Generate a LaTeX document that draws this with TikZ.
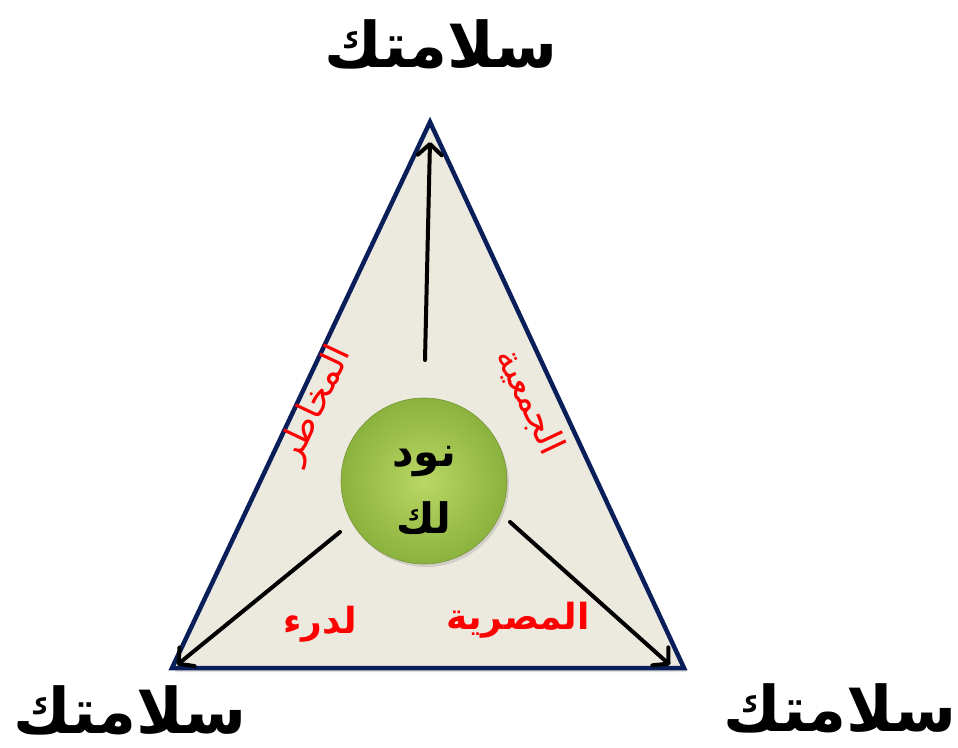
\documentclass[tikz,border=0pt]{standalone}
\usepackage{fontspec}
\usetikzlibrary{arrows.meta,shadows,calc}
\TeXXeTstate=1
\newfontfamily\arabicfont[Script=Arabic]{DejaVu Sans}
\definecolor{trifill}{RGB}{236,233,223}
\definecolor{triborder}{RGB}{10,30,90}
\definecolor{greenin}{RGB}{185,215,100}
\definecolor{greenout}{RGB}{140,178,62}
\tikzset{
  big/.style={font=\arabicfont\bfseries\fontsize{63}{70}\selectfont, text=black, inner sep=0pt},
  redlbl/.style={font=\arabicfont\fontsize{36}{40}\selectfont, text=red, inner sep=0pt},
  redbold/.style={font=\arabicfont\bfseries\fontsize{36}{40}\selectfont, text=red, inner sep=0pt},
  ctr/.style={font=\arabicfont\bfseries\fontsize{42}{46}\selectfont, text=black, inner sep=0pt},
  arr/.style={line width=4pt, line cap=round, -{Straight Barb[length=11pt,width=24pt,line cap=round,line join=round]}},
}
\begin{document}
\begin{tikzpicture}[x=1pt,y=-1pt]
\useasboundingbox (0,0) rectangle (958,747);
\coordinate (T) at (430,122);
\coordinate (L) at (172,668);
\coordinate (R) at (684,668);
\fill[black, opacity=0.12] ($(T)+(3,4)$) -- ($(L)+(3,4)$) -- ($(R)+(3,4)$) -- cycle;
\draw[fill=trifill, draw=triborder, line width=4.5pt, line join=miter] (T) -- (L) -- (R) -- cycle;
\node[circle, minimum size=166pt, inner sep=0pt, shading=radial, inner color=greenin, outer color=greenout, draw=greenout!85!black, line width=0.6pt, drop shadow={opacity=0.25, shadow xshift=2pt, shadow yshift=-3pt}] (C) at (424,481) {};
\coordinate (a1s) at (425,360);
\coordinate (a1e) at (430,142);
\coordinate (a2s) at (340,532);
\coordinate (a2e) at (177,665);
\coordinate (a3s) at (510,522);
\coordinate (a3e) at (670,665);
\draw[arr] (a1s) -- (a1e);
\draw[arr] (a2s) -- (a2e);
\draw[arr] (a3s) -- (a3e);
\node[ctr] (n1) at (424,462) {\beginR نود\endR};
\node[ctr] (n2) at (424,518) {\beginR لك\endR};
\node[redlbl, rotate=64.7] (l1) at (316,405) {\beginR المخاطر\endR};
\node[redlbl, rotate=-64.7] (l2) at (530,402) {\beginR الجمعية\endR};
\node[redbold] (l3) at (320,624) {\beginR لدرء\endR};
\node[redbold] (l4) at (518,620) {\beginR المصرية\endR};
\node[big] (t1) at (441,44) {\beginR سلامتك\endR};
\node[big] (t2) at (130,710) {\beginR سلامتك\endR};
\node[big] (t3) at (840,708) {\beginR سلامتك\endR};
\end{tikzpicture}
\end{document}
